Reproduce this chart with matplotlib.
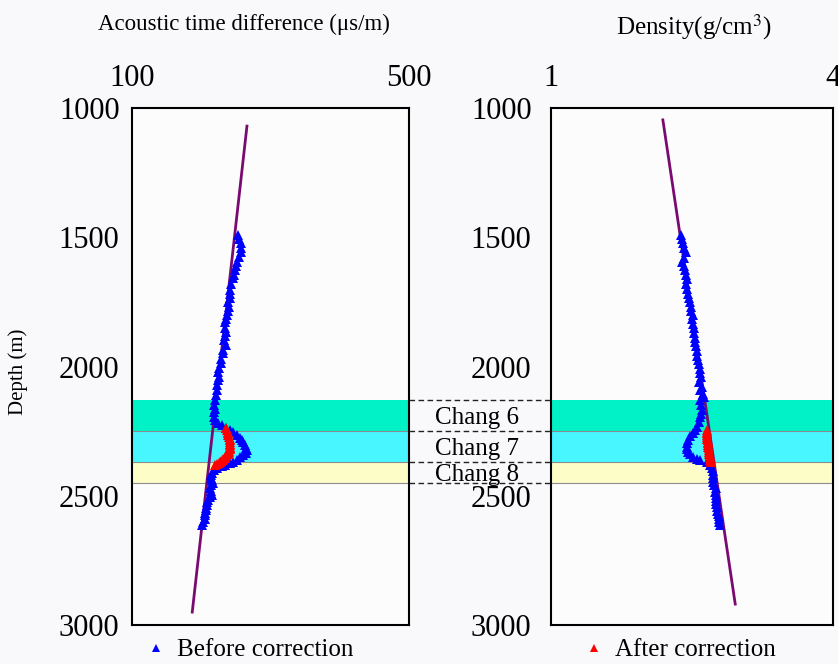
import matplotlib
matplotlib.use('Agg')
import matplotlib.pyplot as plt
from matplotlib.lines import Line2D
import numpy as np

plt.rcParams['font.family'] = ['Liberation Serif', 'DejaVu Serif']
plt.rcParams['mathtext.fontset'] = 'stix'

# ---- data ----
# stratigraphic intervals (depth, m)
zones = ['Chang 6', 'Chang 7', 'Chang 8']
zone_top = [2130, 2250, 2370]
zone_bot = [2250, 2370, 2452]
zone_col = ['#00f2c6', '#48f6ff', '#fdfdc8']

# acoustic time difference, before correction
ac_depth = [1491, 1506, 1522, 1540, 1557, 1578, 1596, 1612, 1627, 1645, 1658, 1680,
            1704, 1720, 1735, 1752, 1770, 1786, 1801, 1815, 1828, 1850, 1867, 1882,
            1897, 1917, 1935, 1948, 1970, 1986, 2005, 2021, 2040, 2052, 2070, 2091,
            2110, 2130, 2150, 2165, 2176, 2195, 2207, 2218, 2226, 2236, 2246, 2255,
            2265, 2275, 2284, 2294, 2304, 2314, 2323, 2333, 2342, 2352, 2362, 2368,
            2373, 2380, 2385, 2393, 2402, 2412, 2421, 2431, 2441, 2451, 2460, 2470,
            2480, 2490, 2497, 2506, 2515, 2526, 2536, 2546, 2555, 2565, 2574, 2590,
            2600, 2613]
ac_before = [253, 254, 257, 258, 257, 255, 252, 250, 249, 247, 246, 243,
             241, 242, 241, 239, 240, 238, 237, 236, 234, 235, 236, 234,
             233, 236, 232, 231, 229, 228, 226, 224, 225, 224, 223, 223,
             221, 220, 219, 220, 218, 219, 220, 224, 230, 236, 241, 246,
             252, 256, 259, 261, 263, 265, 266, 264, 260, 256, 252, 246,
             241, 235, 230, 223, 218, 215, 214, 214, 216, 217, 214, 213,
             214, 214, 215, 212, 210, 209, 208, 207, 207, 206, 205, 206,
             203, 201]
ac_after_depth = [2238, 2245, 2252, 2258, 2265, 2272, 2280, 2286, 2292, 2299, 2305,
                  2310, 2315, 2320, 2325, 2330, 2335, 2340, 2345, 2350, 2354, 2358,
                  2362, 2366, 2369, 2373, 2376, 2381]
ac_after = [236, 237, 238, 238, 239, 240, 241, 241, 242, 242, 242,
            242, 241, 241, 240, 240, 239, 238, 236, 235, 234, 232,
            231, 229, 227, 225, 223, 220]
ac_trend_depth = [1070, 2950]
ac_trend = [266, 187]

# density, before correction
den_depth = [1491, 1506, 1522, 1540, 1557, 1580, 1596, 1612, 1627, 1645, 1660, 1680,
             1700, 1718, 1735, 1752, 1770, 1786, 1801, 1818, 1835, 1852, 1870, 1888,
             1905, 1922, 1940, 1958, 1975, 1992, 2010, 2025, 2040, 2060, 2079, 2091,
             2105, 2118, 2130, 2150, 2168, 2182, 2195, 2215, 2234, 2246, 2257, 2270,
             2284, 2297, 2311, 2321, 2331, 2340, 2350, 2356, 2362, 2369, 2380, 2393,
             2406, 2420, 2433, 2447, 2458, 2470, 2484, 2497, 2508, 2520, 2533, 2545,
             2558, 2570, 2580, 2590, 2600, 2613]
den_before = [2.38, 2.39, 2.40, 2.42, 2.44, 2.41, 2.39, 2.41, 2.43, 2.44, 2.45, 2.44,
              2.45, 2.46, 2.47, 2.48, 2.49, 2.49, 2.51, 2.50, 2.51, 2.52, 2.52, 2.53,
              2.53, 2.54, 2.55, 2.55, 2.56, 2.57, 2.59, 2.59, 2.60, 2.57, 2.61, 2.59,
              2.62, 2.63, 2.59, 2.60, 2.61, 2.60, 2.59, 2.57, 2.55, 2.53, 2.51, 2.48,
              2.46, 2.45, 2.45, 2.45, 2.46, 2.48, 2.51, 2.55, 2.59, 2.66, 2.69, 2.71,
              2.72, 2.72, 2.72, 2.72, 2.73, 2.75, 2.74, 2.75, 2.75, 2.76, 2.76, 2.77,
              2.77, 2.78, 2.79, 2.79, 2.79, 2.80]
den_after_depth = [2246, 2252, 2258, 2265, 2273, 2280, 2285, 2291, 2296, 2303, 2310,
                   2316, 2323, 2330, 2337, 2344, 2350, 2355, 2360, 2365, 2369]
den_after = [2.66, 2.66, 2.66, 2.66, 2.66, 2.66, 2.665, 2.67, 2.67, 2.67, 2.675,
             2.68, 2.68, 2.685, 2.685, 2.69, 2.69, 2.695, 2.695, 2.70, 2.70]
den_trend_depth = [1046, 2919]
den_trend = [2.19, 2.96]

W, H = 838, 664
fig = plt.figure(figsize=(W / 100, H / 100), dpi=100, facecolor='#f9f9fb')


def px_box(x0, x1, y0, y1):
    # pixel box (top-left origin) -> figure fraction rect
    return [x0 / W, 1 - y1 / H, (x1 - x0) / W, (y1 - y0) / H]


ax1 = fig.add_axes(px_box(132, 409, 108, 625))
ax2 = fig.add_axes(px_box(551, 833, 108, 625))
axm = fig.add_axes(px_box(409, 551, 108, 625))

for ax in (ax1, ax2, axm):
    ax.set_ylim(3000, 1000)
    ax.set_facecolor('#fcfcfd')

for ax in (ax1, ax2):
    for t, b, c in zip(zone_top, zone_bot, zone_col):
        ax.axhspan(t, b, color=c, lw=0, zorder=0)
    for d in zone_bot:
        ax.axhline(d, color='#8c8c8c', lw=0.8, zorder=0.5)
    for s in ax.spines.values():
        s.set_linewidth(1.5)
    ax.xaxis.tick_top()
    ax.tick_params(length=0, labelsize=22)
    ax.set_yticks([1000, 1500, 2000, 2500, 3000])

# acoustic panel
ax1.set_xlim(100, 500)
ax1.set_xticks([100, 500])
ax1.tick_params(axis='x', pad=11)
ax1.tick_params(axis='y', pad=9)
ax1.plot(ac_trend, ac_trend_depth, color='#7a0a70', lw=2, zorder=2)
ax1.plot(ac_before, ac_depth, '^', color='#0000ff', ms=7.5, mew=0, zorder=3)
ax1.plot(ac_after, ac_after_depth, '^', color='#ff0000', ms=7.5, mew=0, zorder=4)

# density panel
ax2.set_xlim(1, 4)
ax2.set_xticks([1, 4])
ax2.tick_params(axis='x', pad=11)
ax2.tick_params(axis='y', pad=14)
ax2.plot(den_trend, den_trend_depth, color='#7a0a70', lw=2, zorder=2)
ax2.plot(den_before, den_depth, '^', color='#0000ff', ms=7.5, mew=0, zorder=3)
ax2.plot(den_after, den_after_depth, '^', color='#ff0000', ms=7.5, mew=0, zorder=4)

# connector between the panels
axm.axis('off')
axm.set_xlim(0, 1)
for d in zone_top + [zone_bot[-1]]:
    axm.axhline(d, color='#222222', lw=1, ls=(0, (4, 2.5)))
for name, t, b in zip(zones, zone_top, zone_bot):
    axm.text(0.48, (t + b) / 2 + 8, name, ha='center', va='center', fontsize=18)

fig.text(244 / W, 1 - 24 / H, 'Acoustic time difference (μs/m)', ha='center',
         va='center', fontsize=16.5)
fig.text(694 / W, 1 - 27 / H, 'Density(g/cm$^3$)', ha='center', va='center',
         fontsize=18)
fig.text(18 / W, 1 - 372 / H, 'Depth (m)', rotation=90, ha='center', va='center',
         fontsize=15)

h_b = Line2D([], [], ls='none', marker='^', color='#0000ff', ms=6, mew=0)
h_a = Line2D([], [], ls='none', marker='^', color='#ff0000', ms=6, mew=0)
fig.legend([h_b], ['Before correction'], loc='center left',
           bbox_to_anchor=(146 / W, 1 - 650 / H), frameon=False, fontsize=18,
           handlelength=0.8, handletextpad=0.45, borderpad=0, borderaxespad=0)
fig.legend([h_a], ['After correction'], loc='center left',
           bbox_to_anchor=(584 / W, 1 - 650 / H), frameon=False, fontsize=18,
           handlelength=0.8, handletextpad=0.45, borderpad=0, borderaxespad=0)

fig.savefig('out.png', dpi=100, facecolor=fig.get_facecolor())
